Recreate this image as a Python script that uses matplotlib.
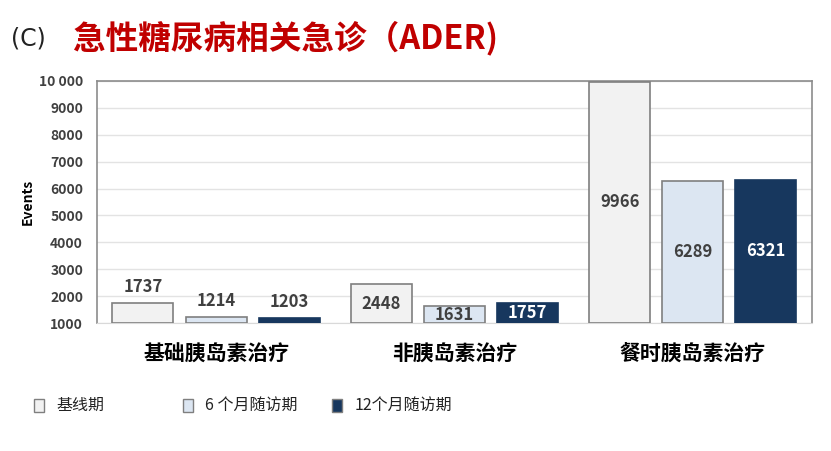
import numpy as np
import matplotlib.pyplot as plt
from matplotlib.patches import Rectangle

plt.rcParams['font.family'] = ['Noto Sans CJK SC', 'DejaVu Sans']

# 数据
categories = ['基础胰岛素治疗', '非胰岛素治疗', '餐时胰岛素治疗']
series_names = ['基线期', '6 个月随访期', '12个月随访期']
baseline = [1737, 2448, 9966]
month6 = [1214, 1631, 6289]
month12 = [1203, 1757, 6321]
yticks = [1000, 2000, 3000, 4000, 5000, 6000, 7000, 8000, 9000, 10000]
ytick_labels = ['1000', '2000', '3000', '4000', '5000', '6000', '7000', '8000', '9000', '10 000']

fill_colors = ['#F2F2F2', '#DCE6F2', '#17375E']
edge_colors = ['#7F7F7F', '#7F7F7F', '#17375E']
text_colors = ['#404040', '#404040', 'white']

fig = plt.figure(figsize=(8.31, 4.51), dpi=100)
ax = fig.add_axes([0.1167, 0.2838, 0.8604, 0.5366])

x = np.arange(len(categories))
width = 0.256
offset = 0.307
all_series = [baseline, month6, month12]

for k, vals in enumerate(all_series):
    bars = ax.bar(x + (k - 1) * offset, np.array(vals) - 1000, width, bottom=1000,
                  color=fill_colors[k], edgecolor=edge_colors[k], linewidth=1.2, zorder=3)
    for i, b in enumerate(bars):
        v = vals[i]
        cx = b.get_x() + b.get_width() / 2
        if i == 0:  # 第一组柱子太矮，标签放在上方
            ax.text(cx, v + 590, str(v), ha='center', va='center', fontsize=12,
                    fontweight='bold', color='#404040', zorder=4)
        else:
            ax.text(cx, (v + 1000) / 2, str(v), ha='center', va='center', fontsize=12,
                    fontweight='bold', color=text_colors[k], zorder=4)

ax.set_xlim(-0.5, 2.5)
ax.set_ylim(1000, 10000)
ax.set_yticks(yticks)
ax.set_yticklabels(ytick_labels, fontsize=10, fontweight='bold', color='#404040')
ax.set_xticks(x)
ax.set_xticklabels(categories, fontsize=15, fontweight='bold', color='black')
ax.tick_params(axis='both', length=0)
ax.tick_params(axis='x', pad=15)
ax.tick_params(axis='y', pad=10)
ax.yaxis.grid(True, color='#E3E3E3', linewidth=1, zorder=0)
ax.set_ylabel('Events', fontsize=10, fontweight='bold', color='black', labelpad=3)
for s in ['top', 'left', 'right']:
    ax.spines[s].set_color('#8C8C8C')
    ax.spines[s].set_linewidth(1.2)
ax.spines['bottom'].set_color('#D9D9D9')

# 标题
fig.text(0.013, 0.915, '(C)', fontsize=17, color='#222222', va='center', family='DejaVu Sans')
fig.text(0.088, 0.915, '急性糖尿病相关急诊（ADER)', fontsize=23.5, fontweight='bold',
         color='#C00000', va='center')

# 图例
leg_x = [0.041, 0.220, 0.400]
for k, name in enumerate(series_names):
    fig.add_artist(Rectangle((leg_x[k], 0.086), 0.012, 0.029, transform=fig.transFigure,
                             facecolor=fill_colors[k], edgecolor='#7F7F7F', linewidth=1))
    fig.text(leg_x[k] + 0.027, 0.101, name, fontsize=11.5, color='#222222', va='center')

fig.savefig('out.png', dpi=100)
